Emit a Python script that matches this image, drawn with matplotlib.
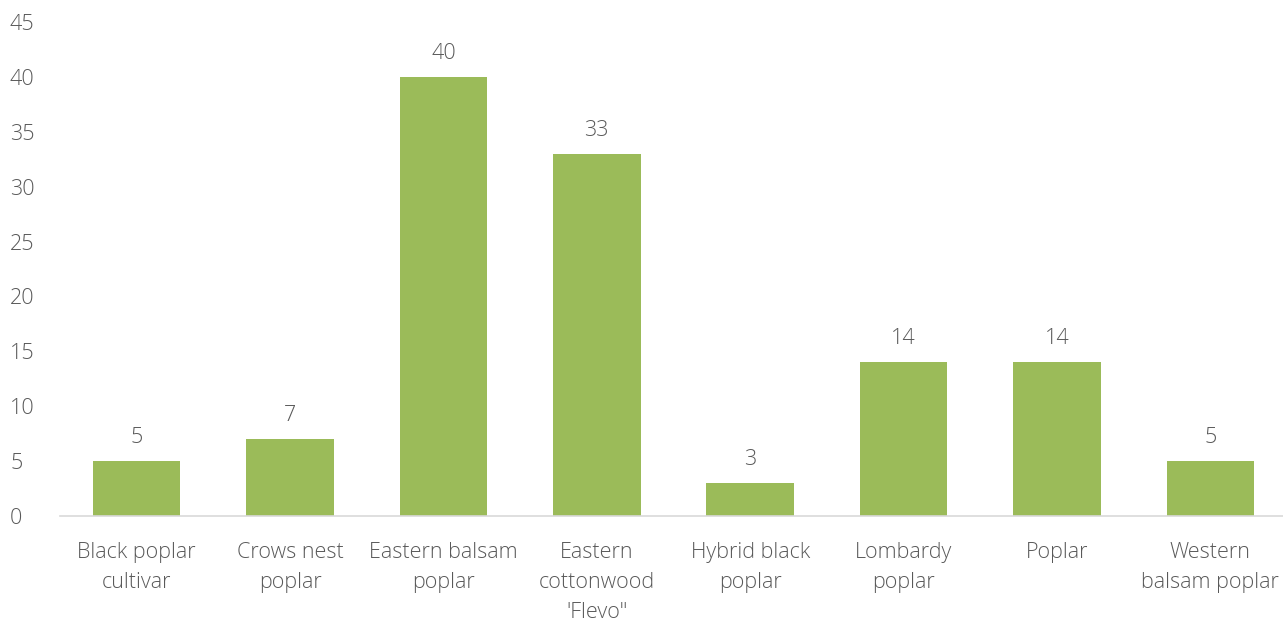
import matplotlib.pyplot as plt
import numpy as np

categories = ["Black poplar\ncultivar", "Crows nest\npoplar", "Eastern balsam\npoplar",
              "Eastern\ncottonwood\n'Flevo\"", "Hybrid black\npoplar", "Lombardy\npoplar",
              "Poplar", "Western\nbalsam poplar"]
values = [5, 7, 40, 33, 3, 14, 14, 5]
yticks = [0, 5, 10, 15, 20, 25, 30, 35, 40, 45]

plt.rcParams['font.family'] = ['Open Sans', 'DejaVu Sans']
text_color = '#595959'

fig = plt.figure(figsize=(12.83, 6.23), dpi=100)
ax = fig.add_axes([60/1283, 107/623, 1227/1283, 494/623])

x = np.arange(len(categories))
ax.bar(x, values, width=0.57, color='#9BBB59')
for xi, v in zip(x, values):
    ax.text(xi, v + 1.2, str(v), ha='center', va='bottom', fontsize=15.5,
            color=text_color, fontweight='light')

ax.set_xlim(-0.5, len(categories) - 0.5)
ax.set_ylim(0, 45)
ax.set_yticks(yticks)
ax.set_xticks(x)
ax.set_xticklabels(categories, linespacing=1.55)
ax.tick_params(axis='both', length=0, labelsize=15.5, labelcolor=text_color)
ax.tick_params(axis='x', pad=19)
ax.tick_params(axis='y', pad=36)
for lbl in ax.get_yticklabels():
    lbl.set_horizontalalignment('left')
    lbl.set_fontweight('light')
for lbl in ax.get_xticklabels():
    lbl.set_fontweight('light')
    lbl.set_verticalalignment('top')

for s in ['top', 'right', 'left']:
    ax.spines[s].set_visible(False)
ax.spines['bottom'].set_color('#D9D9D9')
ax.spines['bottom'].set_linewidth(1.2)

fig.savefig('out.png', dpi=100)
